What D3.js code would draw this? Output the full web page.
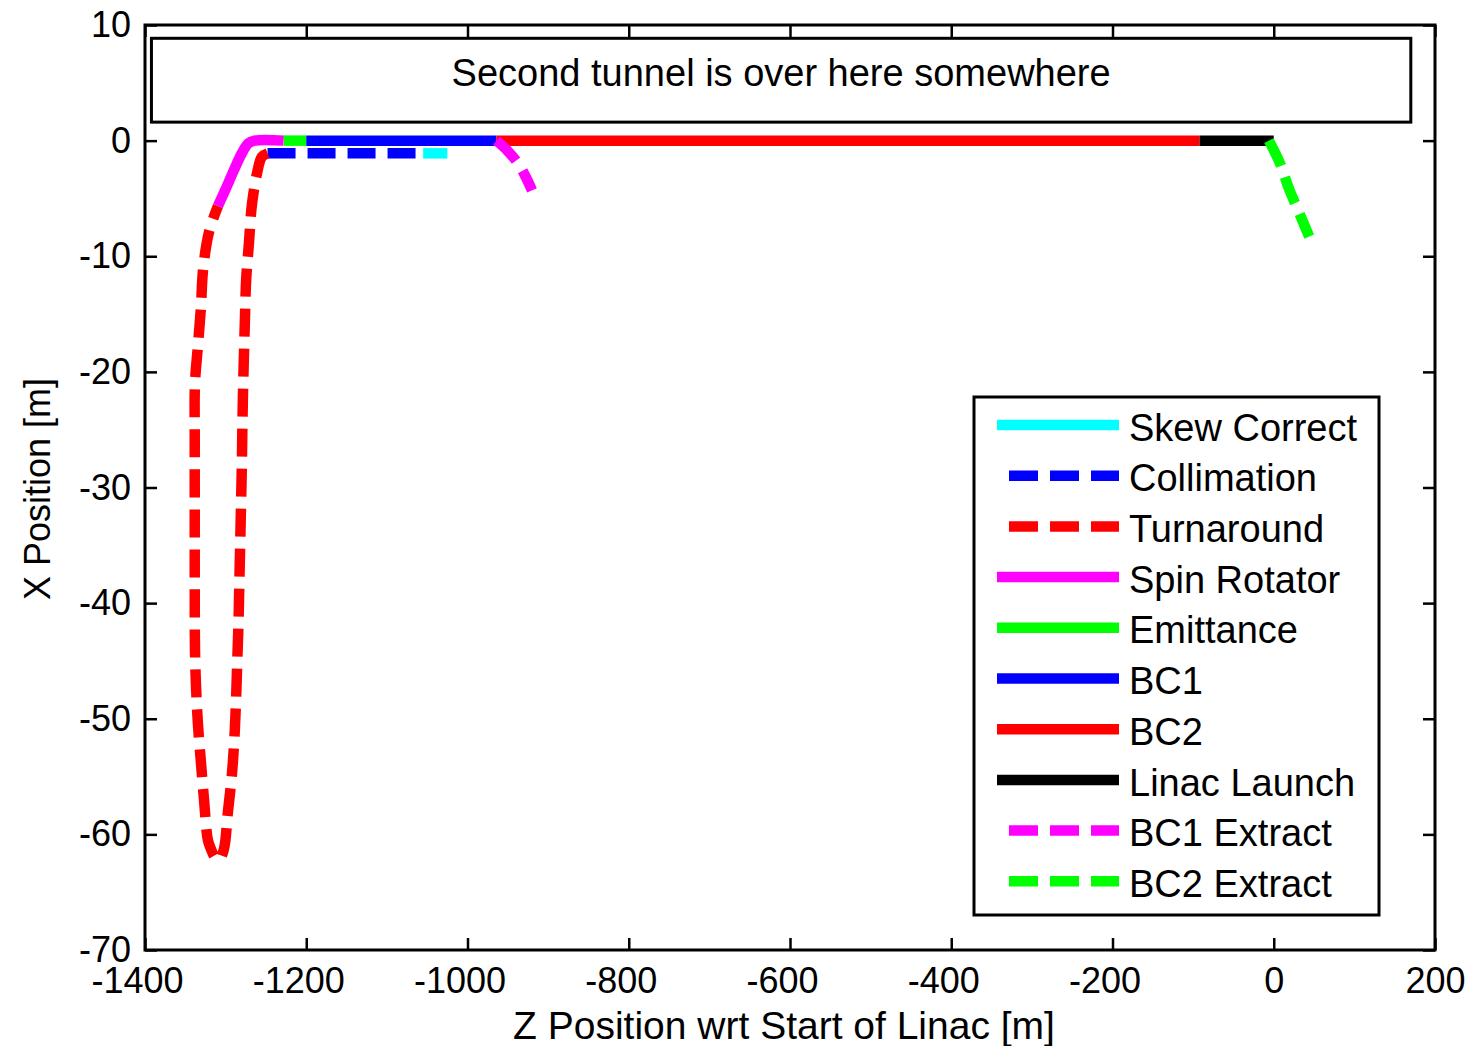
<!DOCTYPE html>
<html><head><meta charset="utf-8">
<script src="https://cdn.jsdelivr.net/npm/d3@7"></script>
<style>
body{margin:0;background:#fff}
svg{display:block}
text{font-family:"Liberation Sans",Arial,Helvetica,sans-serif;fill:#000}
</style>
</head><body>
<svg id="chart" width="1468" height="1046"></svg>
<script>
// ---------------- data ----------------
const seriesNames = ["Skew Correct","Collimation","Turnaround","Spin Rotator","Emittance","BC1","BC2","Linac Launch","BC1 Extract","BC2 Extract"];
// each beamline: [z, x] points (m)
const skewCorrect = [[-1055,-1.1],[-1025,-1.1]];
const collimation = [[-1248,-1.1],[-1055,-1.1]];
const turnaround = [[-1248,-1.1],[-1255,-1.4],[-1261,-2.8],[-1267.5,-5.6],[-1271,-8.8],[-1274.5,-12.0],[-1276,-15.3],[-1277.3,-18.6],[-1278.5,-21.9],[-1279.3,-25.2],[-1280,-28.5],[-1281,-31.8],[-1282,-35.1],[-1283,-38.3],[-1284,-41.6],[-1285.5,-44.9],[-1287,-48.2],[-1289,-51.5],[-1292.2,-54.8],[-1297.2,-58.1],[-1302.2,-61.3],[-1308,-62.2],[-1313.2,-62.0],[-1318,-61.3],[-1322,-60.5],[-1326.8,-57.0],[-1330.6,-53.8],[-1334.3,-50.5],[-1336.7,-47.2],[-1338,-44.0],[-1338.3,-38],[-1338.3,-32],[-1338.3,-26],[-1338,-21.0],[-1334.3,-17.7],[-1330.6,-14.4],[-1328,-11.2],[-1320.6,-7.9],[-1309.5,-5.65]];
const spinRotator = [[-1309.5,-5.65],[-1300,-4.2],[-1290,-2.6],[-1280,-1.1],[-1272,-0.25],[-1264,0],[-1228,0]];
const emittance = [[-1228,0],[-1200,0]];
const bc1 = [[-1200,0],[-964,0]];
const bc2 = [[-964,0],[-92,0]];
const linacLaunch = [[-92,0],[0,0]];
const bc1Extract = [[-964,0],[-950,-0.9],[-937,-2.0],[-928,-3.1],[-920,-4.3]];
const bc2Extract = [[-6,0],[8,-2.0],[18,-4.0],[30,-6.0],[44,-8.3]];
const seriesData = [skewCorrect, collimation, turnaround, spinRotator, emittance, bc1, bc2, linacLaunch, bc1Extract, bc2Extract];

const zTicks = [-1400,-1200,-1000,-800,-600,-400,-200,0,200];
const xTicks = [-70,-60,-50,-40,-30,-20,-10,0,10];
const zDomain = [-1400, 200];
const xDomain = [-70, 10];
const annotationText = "Second tunnel is over here somewhere";
const annotationZ = [-1392, 170];
const annotationX = [1.6, 8.85];
const xLabel = "Z Position wrt Start of Linac [m]";
const yLabel = "X Position [m]";

// ---------------- styles ----------------
const colors = ["#00FFFF","#0000FF","#FF0000","#FF00FF","#00FF00","#0000FF","#FF0000","#000000","#FF00FF","#00FF00"];
const dashed = [false,true,true,false,false,false,false,false,true,true];

// ---------------- layout ----------------
const L = 145, R = 1435, T = 25, B = 950;
const svg = d3.select("#chart");
const x = d3.scaleLinear().domain(zDomain).range([L, R]);
const y = d3.scaleLinear().domain(xDomain).range([B, T]);

svg.append("rect").attr("width",1468).attr("height",1046).attr("fill","#fff");

// data lines
const line = d3.line().x(d => x(d[0])).y(d => y(d[1])).curve(d3.curveCatmullRom.alpha(0.5));
const plot = svg.append("g");
seriesData.forEach((pts, i) => {
  plot.append("path")
    .attr("d", line(pts))
    .attr("fill", "none")
    .attr("stroke", colors[i])
    .attr("stroke-width", 10.5)
    .attr("stroke-linecap", "butt")
    .attr("stroke-linejoin", "round")
    .attr("stroke-dasharray", dashed[i] ? "28,12" : null);
});

// annotation box
svg.append("rect")
  .attr("x", x(annotationZ[0])).attr("y", y(annotationX[1]))
  .attr("width", x(annotationZ[1]) - x(annotationZ[0]))
  .attr("height", y(annotationX[0]) - y(annotationX[1]))
  .attr("fill", "#fff").attr("stroke", "#000").attr("stroke-width", 3);
svg.append("text")
  .attr("x", (x(annotationZ[0]) + x(annotationZ[1])) / 2)
  .attr("y", y(annotationX[1]) + 48)
  .attr("text-anchor", "middle")
  .style("font-size", "38px")
  .text(annotationText);

// axes
function styleAxis(g){
  g.select(".domain").remove();
  g.selectAll(".tick line").attr("stroke","#000").attr("stroke-width",2.5);
  g.selectAll("text").style("font-size","36px").style("font-family",'"Liberation Sans",Arial,sans-serif').attr("fill","#000");
}
svg.append("g").attr("transform",`translate(0,${B})`)
  .call(d3.axisBottom(x).tickValues(zTicks).tickFormat(d3.format("d")).tickSizeInner(-12).tickSizeOuter(0).tickPadding(17))
  .call(styleAxis)
  .call(g => g.selectAll(".tick text").attr("dx", d => d < 0 ? -8 : 0));
svg.append("g").attr("transform",`translate(0,${T})`)
  .call(d3.axisTop(x).tickValues(zTicks).tickFormat("").tickSizeInner(-12).tickSizeOuter(0))
  .call(styleAxis);
svg.append("g").attr("transform",`translate(${L},0)`)
  .call(d3.axisLeft(y).tickValues(xTicks).tickFormat(d3.format("d")).tickSizeInner(-12).tickSizeOuter(0).tickPadding(14))
  .call(styleAxis);
svg.append("g").attr("transform",`translate(${R},0)`)
  .call(d3.axisRight(y).tickValues(xTicks).tickFormat("").tickSizeInner(-12).tickSizeOuter(0))
  .call(styleAxis);
// use the ASCII hyphen like the original
svg.selectAll(".tick text").each(function(){ const t=d3.select(this); t.text(t.text().replace("\u2212","-")); });

svg.append("rect").attr("x",L).attr("y",T).attr("width",R-L).attr("height",B-T)
  .attr("fill","none").attr("stroke","#000").attr("stroke-width",3);

// axis labels
svg.append("text").attr("x",784).attr("y",1039).attr("text-anchor","middle")
  .style("font-size","39px").text(xLabel);
svg.append("text").attr("transform","translate(50,489) rotate(-90)").attr("text-anchor","middle")
  .style("font-size","36px").text(yLabel);

// legend
const lg = svg.append("g");
lg.append("rect").attr("x",974).attr("y",397).attr("width",405).attr("height",518)
  .attr("fill","#fff").attr("stroke","#000").attr("stroke-width",3);
seriesNames.forEach((name, i) => {
  const ly = 425 + i * 50.7;
  lg.append("line")
    .attr("x1", dashed[i] ? 1009 : 997).attr("x2", 1119)
    .attr("y1", ly).attr("y2", ly)
    .attr("stroke", colors[i]).attr("stroke-width", 10.5)
    .attr("stroke-dasharray", dashed[i] ? "29,12" : null);
  lg.append("text").attr("x",1129).attr("y",ly+15.6)
    .style("font-size","38px").text(name);
});
</script>
</body></html>
